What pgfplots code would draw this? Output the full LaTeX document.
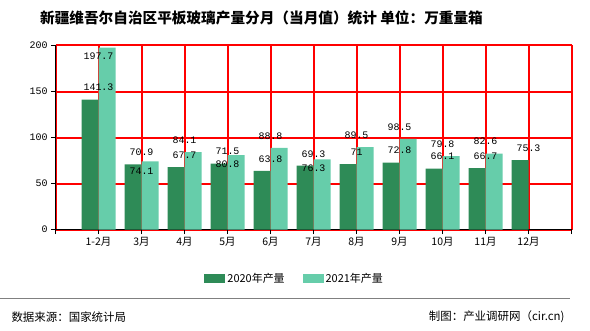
\documentclass[border=0pt]{standalone}
\usepackage{pgfplots}
\pgfplotsset{compat=1.18}
\usepackage{pgfplotstable}
\usepackage{fontspec}
\setmainfont{Noto Sans CJK SC}
\newfontfamily\monof{Liberation Mono}
\definecolor{cA}{HTML}{2E8B57}
\definecolor{cB}{HTML}{66CDAA}
\definecolor{gridc}{HTML}{FF0000}
\pgfplotstableread{
x y s
1 141.3 12
2 70.9 12
3 67.7 12
4 71.5 12
5 63.8 12
6 69.3 12
7 71 12
8 72.8 12
9 66.1 12
10 66.7 12
11 75.3 12
}\dataA
\pgfplotstableread{
x y s
1 197.7 -9
2 74.1 -10
3 84.1 12
4 80.8 -9
5 88.8 12
6 76.3 -9
7 89.5 12
8 98.5 12
9 79.8 12
10 82.6 12
}\dataB
\begin{document}
\begin{tikzpicture}[x=1bp,y=1bp]
\useasboundingbox (0,0) rectangle (590,330);
\node[font=\fontsize{14.7}{17}\selectfont\bfseries] at (261.5,312) {新疆维吾尔自治区平板玻璃产量分月（当月值）统计\ 单位：万重量箱};
\begin{axis}[
  at={(55.5bp,100.5bp)}, anchor=south west,
  width=516bp, height=184bp, scale only axis,
  xmin=0, xmax=12, ymin=0, ymax=200,
  axis x line*=bottom, axis y line*=left,
  axis line style={-, black, line width=1bp},
  xtick={0,...,12},
  xticklabels={,1-2月,3月,4月,5月,6月,7月,8月,9月,10月,11月,12月,},
  ytick={0,50,100,150,200},
  tick align=outside,
  major tick length=4.5bp,
  tick style={line width=1bp, black},
  xmajorgrids=true, ymajorgrids=true,
  major grid style={draw=gridc, line width=2bp},
  x tick label style={font=\fontsize{10.5}{12}\selectfont},
  y tick label style={font=\monof\fontsize{10}{12}\selectfont},
  /pgf/number format/assume math mode=true,
  legend style={at={(0.4635,-0.268)}, anchor=center, draw=none, fill=none,
    legend columns=2, font=\fontsize{11}{13}\selectfont,
    /tikz/every even column/.append style={column sep=16bp}},
  legend image code/.code={\fill[#1] (0bp,-4.5bp) rectangle (21bp,4.5bp);},
  nodes near coords style={font=\monof\fontsize{10}{12}\selectfont, anchor=center, text=black},
  clip=false,
]
\addplot[ybar, bar width=17bp, bar shift=-8.5bp, fill=cA, draw=none,
  point meta=explicit symbolic,
  visualization depends on={\thisrow{s} \as \myshift},
  nodes near coords, nodes near coords style={yshift=\myshift bp}]
  table[x=x, y=y, meta=y] {\dataA};
\addlegendentry{2020年产量}
\addplot[ybar, bar width=17bp, bar shift=8.5bp, fill=cB, draw=none,
  point meta=explicit symbolic,
  visualization depends on={\thisrow{s} \as \myshift},
  nodes near coords, nodes near coords style={yshift=\myshift bp}]
  table[x=x, y=y, meta=y] {\dataB};
\addlegendentry{2021年产量}
\end{axis}
\draw[gray, line width=1bp] (0,31.5) -- (570,31.5);
\node[anchor=west, font=\fontsize{11.5}{13}\selectfont] at (8,13) {数据来源：国家统计局};
\node[anchor=east, font=\fontsize{11.5}{13}\selectfont] at (568,13) {制图：产业调研网（cir.cn)};
\end{tikzpicture}
\end{document}
